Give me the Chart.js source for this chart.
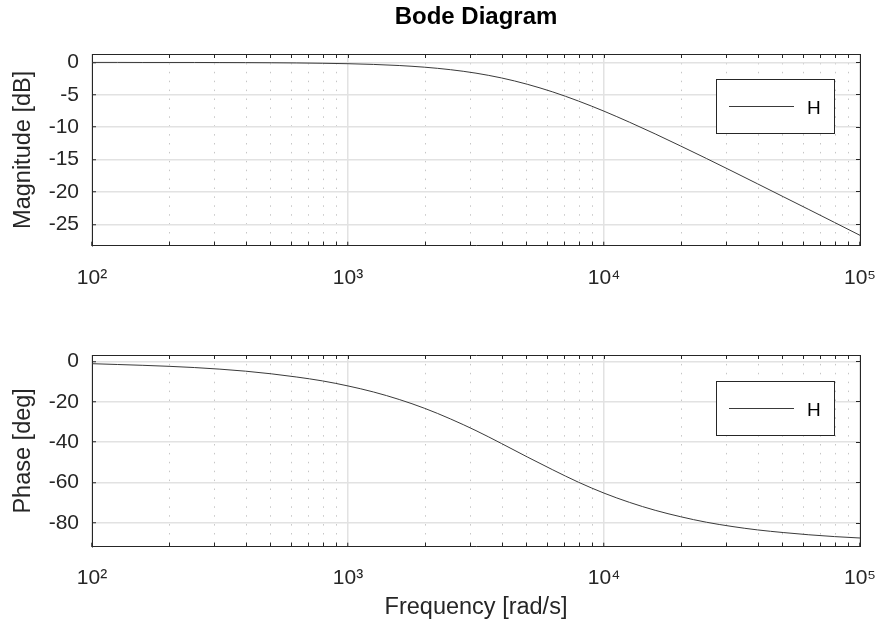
<!DOCTYPE html>
<html>
<head>
<meta charset="utf-8">
<script src="https://cdn.jsdelivr.net/npm/chart.js@4.4.1/dist/chart.umd.min.js"></script>
<style>
  html, body { margin: 0; padding: 0; background: #ffffff; }
  #wrap { position: relative; width: 878px; height: 626px; background: #ffffff; }
  canvas { position: absolute; left: 0; }
  #c1 { top: 0; }
  #c2 { top: 313px; }
</style>
</head>
<body>
<div id="wrap">
  <canvas id="c1" width="878" height="313"></canvas>
  <canvas id="c2" width="878" height="313"></canvas>
</div>
<script>
// ---- data ----
const seriesLabel = 'H';
const frequency = [100, 126, 158, 200, 251, 316, 398, 501, 631, 794,
  1000, 1259, 1585, 1995, 2512, 3162, 3981, 5012, 6310, 7943,
  10000, 12589, 15849, 19953, 25119, 31623, 39811, 50119, 63096, 79433, 100000];
const magnitudeDb = [-0.00, -0.00, -0.01, -0.01, -0.01, -0.02, -0.03, -0.05, -0.08, -0.13,
  -0.20, -0.31, -0.48, -0.74, -1.12, -1.66, -2.40, -3.37, -4.56, -5.96,
  -7.53, -9.24, -11.04, -12.92, -14.83, -16.78, -18.75, -20.73, -22.71, -24.70, -26.70];
const phaseDeg = [-1.2, -1.6, -2.0, -2.5, -3.1, -3.9, -4.9, -6.2, -7.8, -9.7,
  -12.2, -15.2, -18.9, -23.3, -28.5, -34.3, -40.7, -47.3, -53.7, -59.8,
  -65.2, -69.8, -73.7, -76.9, -79.6, -81.7, -83.4, -84.7, -85.8, -86.7, -87.4];

const xMajorTicks = [100, 1000, 10000, 100000];
const xTickLabels = ['10²', '10³', '10⁴', '10⁵'];
const xMinorTicks = [200, 300, 400, 500, 600, 700, 800, 900,
  2000, 3000, 4000, 5000, 6000, 7000, 8000, 9000,
  20000, 30000, 40000, 50000, 60000, 70000, 80000, 90000];
const magnitudeTicks = [-25, -20, -15, -10, -5, 0];
const phaseTicks = [-80, -60, -40, -20, 0];
const magnitudeRange = [-28.3, 1.3];
const phaseRange = [-91.7, 3.1];
const xRange = [100, 100000];

// ---- styling ----
Chart.defaults.font.family = '"Liberation Sans", Arial, Helvetica, sans-serif';
Chart.defaults.color = '#262626';
const AXIS_COLOR = '#262626';
const MAJOR_GRID = '#e2e2e2';
const MINOR_GRID = '#c6c6c6';
const LINE_COLOR = '#3a3a3a';

const allXTicks = [...xMajorTicks, ...xMinorTicks].sort((a, b) => a - b);
const isMajorX = v => xMajorTicks.includes(v);

function setXTicks(scale) {
  scale.ticks = allXTicks.map(v => ({ value: v, major: isMajorX(v) }));
}
function makeYTickSetter(list) {
  return scale => { scale.ticks = list.map(v => ({ value: v })); };
}

const boxLegend = {
  id: 'boxLegend',
  afterDatasetsDraw(chart, args, opts) {
    const { ctx, chartArea } = chart;
    const ds = chart.data.datasets[0];
    const w = 118, h = 54;
    const x1 = Math.round(chartArea.right - opts.offsetRight);
    const y1 = Math.round(chartArea.top + opts.offsetTop);
    ctx.save();
    ctx.fillStyle = '#ffffff';
    ctx.fillRect(x1, y1, w, h);
    ctx.strokeStyle = AXIS_COLOR;
    ctx.lineWidth = 1;
    ctx.strokeRect(x1 + 0.5, y1 + 0.5, w, h);
    ctx.strokeStyle = ds.borderColor;
    ctx.lineWidth = 1;
    ctx.beginPath();
    ctx.moveTo(x1 + 13, y1 + h / 2 + 0.5);
    ctx.lineTo(x1 + 78, y1 + h / 2 + 0.5);
    ctx.stroke();
    ctx.fillStyle = '#000000';
    ctx.font = '19px "Liberation Sans", Arial, sans-serif';
    ctx.textBaseline = 'middle';
    ctx.textAlign = 'left';
    ctx.fillText(ds.label, x1 + 91, y1 + h / 2 + 3);
    ctx.restore();
  }
};

function makeChart(canvasId, values, yTicks, yRange, yTitle, cfg) {
  const points = frequency.map((f, i) => ({ x: f, y: values[i] }));
  const setY = makeYTickSetter(yTicks);
  return new Chart(document.getElementById(canvasId), {
    type: 'line',
    data: {
      datasets: [{
        label: seriesLabel,
        data: points,
        borderColor: LINE_COLOR,
        borderWidth: 1,
        pointRadius: 0,
        fill: false,
        cubicInterpolationMode: 'monotone',
        xAxisID: 'x',
        yAxisID: 'y'
      }]
    },
    plugins: [boxLegend],
    options: {
      responsive: false,
      animation: false,
      devicePixelRatio: 1,
      layout: { padding: { left: 0, right: 18, top: cfg.padTop, bottom: 0 } },
      plugins: {
        legend: { display: false },
        tooltip: { enabled: false },
        title: cfg.title,
        boxLegend: { offsetRight: 144, offsetTop: cfg.legendTop }
      },
      scales: {
        x: {
          type: 'logarithmic',
          position: 'bottom',
          min: xRange[0], max: xRange[1],
          afterBuildTicks: setXTicks,
          afterFit: s => { s.height = cfg.xHeight; s.paddingLeft = 0; s.paddingRight = 0; },
          grid: {
            color: c => (c.tick && isMajorX(c.tick.value)) ? MAJOR_GRID : MINOR_GRID,
            lineWidth: c => (c.tick && isMajorX(c.tick.value)) ? 1.5 : 1,
            drawTicks: true, tickLength: -4, tickColor: AXIS_COLOR, tickWidth: 1
          },
          border: {
            display: true, color: AXIS_COLOR, width: 1,
            dash: c => (c.tick && !isMajorX(c.tick.value)) ? [1.5, 7.4] : []
          },
          ticks: {
            autoSkip: false, maxRotation: 0, minRotation: 0,
            padding: cfg.xTickPad,
            font: { size: 21 },
            color: '#262626',
            callback: v => { const i = xMajorTicks.indexOf(v); return i >= 0 ? xTickLabels[i] : ''; }
          },
          title: cfg.xTitle
        },
        x2: {
          type: 'logarithmic',
          position: 'top',
          min: xRange[0], max: xRange[1],
          afterBuildTicks: setXTicks,
          afterFit: s => { s.height = 0; s.paddingLeft = 0; s.paddingRight = 0; },
          grid: { drawOnChartArea: false, drawTicks: true, tickLength: -4, tickColor: AXIS_COLOR, tickWidth: 1 },
          border: { display: true, color: AXIS_COLOR, width: 1 },
          ticks: { display: false, autoSkip: false }
        },
        y: {
          type: 'linear',
          position: 'left',
          min: yRange[0], max: yRange[1],
          afterBuildTicks: setY,
          afterFit: s => { s.width = 92; s.paddingTop = 0; s.paddingBottom = 0; },
          grid: { color: MAJOR_GRID, lineWidth: 1.5, drawTicks: true, tickLength: -4, tickColor: AXIS_COLOR, tickWidth: 1 },
          border: { display: true, color: AXIS_COLOR, width: 1 },
          ticks: { padding: 17, font: { size: 21 }, color: '#262626' },
          title: { display: true, text: yTitle, font: { size: 23.5 }, color: '#262626', padding: { top: 9.6, bottom: 0 } }
        },
        y2: {
          type: 'linear',
          position: 'right',
          min: yRange[0], max: yRange[1],
          afterBuildTicks: setY,
          afterFit: s => { s.width = 0; s.paddingTop = 0; s.paddingBottom = 0; },
          grid: { drawOnChartArea: false, drawTicks: true, tickLength: -4, tickColor: AXIS_COLOR, tickWidth: 1 },
          border: { display: true, color: AXIS_COLOR, width: 1 },
          ticks: { display: false }
        }
      }
    }
  });
}

makeChart('c1', magnitudeDb, magnitudeTicks, magnitudeRange, 'Magnitude [dB]', {
  padTop: 0,
  xHeight: 67.3,
  xTickPad: 24,
  legendTop: 25.3,
  title: {
    display: true, text: 'Bode Diagram', fullSize: false,
    font: { size: 24, weight: 'bold' }, color: '#000000',
    padding: { top: 3.2, bottom: 22 }
  },
  xTitle: { display: false }
});

makeChart('c2', phaseDeg, phaseTicks, phaseRange, 'Phase [deg]', {
  padTop: 42,
  xHeight: 79.3,
  xTickPad: 23,
  legendTop: 26,
  title: { display: false },
  xTitle: { display: true, text: 'Frequency [rad/s]', font: { size: 23.5 }, color: '#262626', padding: { top: 0, bottom: 4.2 } }
});
</script>
</body>
</html>
